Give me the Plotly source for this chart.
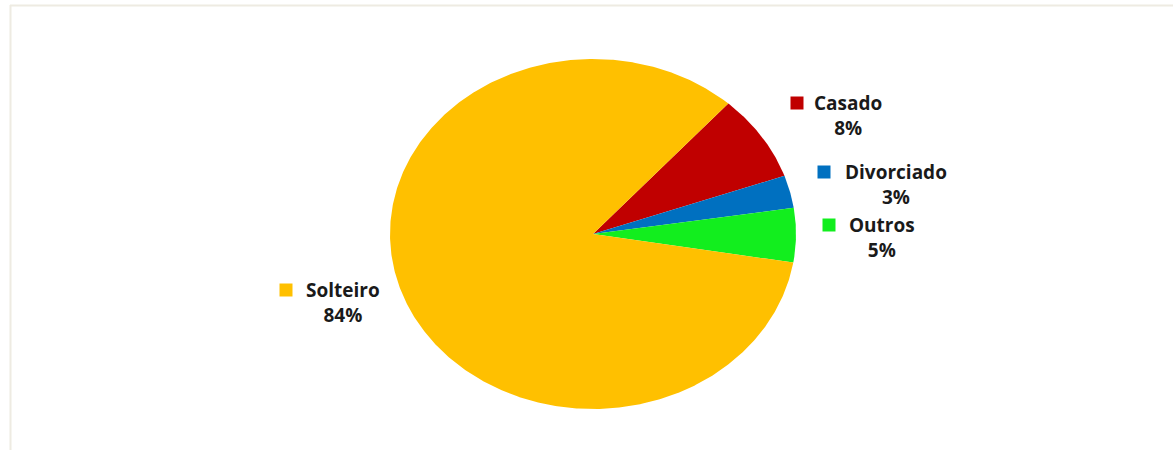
import numpy as np
import plotly.graph_objects as go

categories = ["Casado", "Divorciado", "Outros", "Solteiro"]
values = [8, 3, 5, 84]
colors = ["#C00000", "#0070C0", "#12EE1E", "#FFC000"]

W, H = 1173, 450
CX, CY = 593, 234       # ellipse centre (px)
RX, RY = 203, 175       # ellipse radii (px)
START = 48.2            # start angle (deg, counter-clockwise from east), slices go clockwise

fig = go.Figure()

total = sum(values)
ang = START
for cat, v, c in zip(categories, values, colors):
    sweep = 360.0 * v / total
    t = np.radians(np.linspace(ang, ang - sweep, max(int(sweep * 2), 4)))
    xs = np.concatenate([[0], np.cos(t), [0]])
    ys = np.concatenate([[0], np.sin(t), [0]])
    fig.add_trace(go.Scatter(x=xs, y=ys, mode="lines", fill="toself",
                             fillcolor=c, line=dict(width=0, color=c),
                             hoverinfo="text", text=f"{cat}: {v}%",
                             showlegend=False))
    ang -= sweep

# label positions (px): key square centre, text centre
label_pos = {
    "Casado": ((797, 103), (848, 115)),
    "Divorciado": ((824, 172), (896, 184)),
    "Outros": ((829, 225), (882, 237)),
    "Solteiro": ((286, 290), (343, 302)),
}

def px2x(px):
    return (px - CX) / RX

def py2y(py):
    return (CY - py) / RY

for cat, v, c in zip(categories, values, colors):
    (kx, ky), (tx, ty) = label_pos[cat]
    fig.add_trace(go.Scatter(x=[px2x(kx)], y=[py2y(ky)], mode="markers",
                             marker=dict(symbol="square", size=13, color=c),
                             hoverinfo="skip", showlegend=False))
    fig.add_annotation(x=px2x(tx), y=py2y(ty), xref="x", yref="y",
                       text=f"<b>{cat}</b><br><b>{v}%</b>", showarrow=False,
                       align="center", xanchor="center", yanchor="middle",
                       font=dict(family="Open Sans", size=19, color="#1a1a1a"))

fig.update_xaxes(range=[px2x(0), px2x(W)], visible=False, fixedrange=True)
fig.update_yaxes(range=[py2y(H), py2y(0)], visible=False, fixedrange=True)

# outer frame (light beige)
fig.add_shape(type="line", xref="paper", yref="paper",
              x0=10.5 / W, x1=10.5 / W, y0=0, y1=1 - 5 / H,
              line=dict(color="#EEEBE2", width=2))
fig.add_shape(type="line", xref="paper", yref="paper",
              x0=10 / W, x1=1, y0=1 - 5.5 / H, y1=1 - 5.5 / H,
              line=dict(color="#EEEBE2", width=2))

fig.update_layout(width=W, height=H, margin=dict(l=0, r=0, t=0, b=0),
                  paper_bgcolor="white", plot_bgcolor="white",
                  showlegend=False)

fig.write_html("out.html")
